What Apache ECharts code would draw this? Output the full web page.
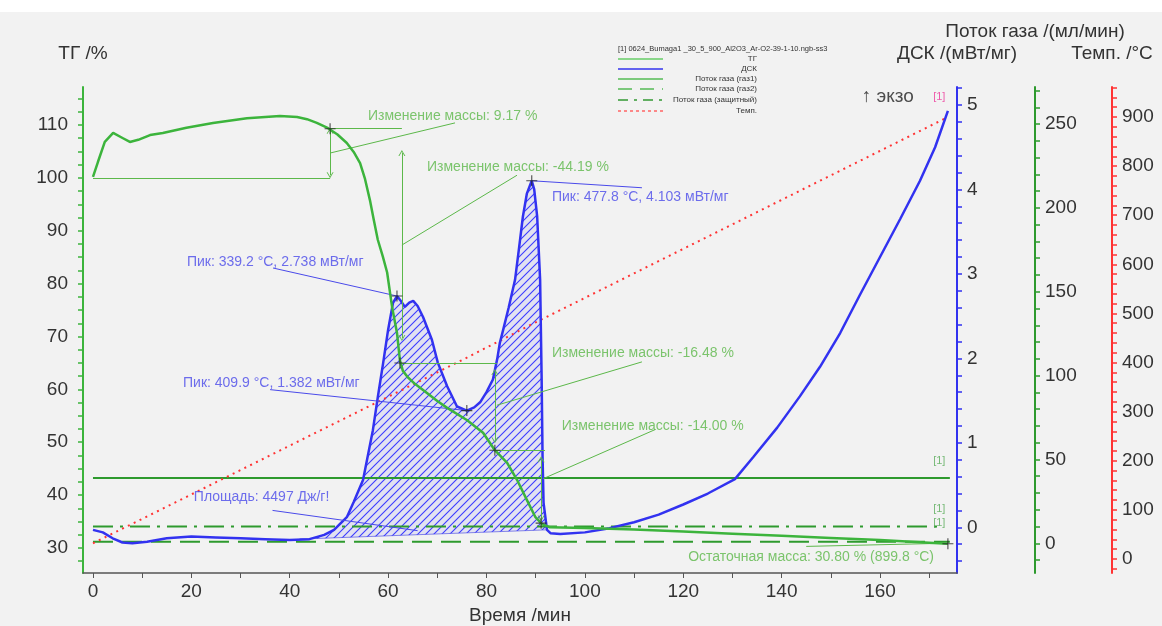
<!DOCTYPE html>
<html><head><meta charset="utf-8">
<script src="https://cdn.jsdelivr.net/npm/echarts@6.0.0/dist/echarts.min.js"></script>
<style>html,body{margin:0;padding:0;background:#fff}#c{width:1162px;height:626px}</style>
</head><body><div id="c"></div>
<script>
// ---- data (time /min, value) ----
const tgData = [[0,100.2],[1,103],[2.4,106.8],[4.1,108.5],[6.1,107.5],[7.5,106.8],[9.2,107.2],[11.6,108.1],[14.2,108.5],[19,109.5],[24.4,110.4],[31.3,111.3],[38,111.7],[41.5,111.5],[43.5,111.1],[45.5,110.4],[47.8,109.4],[49.7,108.2],[51.6,106.6],[53,104.9],[54.3,102.8],[55.3,99.8],[56.3,95.8],[57.1,92],[57.9,88.3],[58.9,85.2],[59.8,82.1],[60.8,75.6],[61.8,70.7],[62.4,65.5],[63,63.5],[64,62.3],[65.5,61],[67.9,59.3],[70,57.8],[72,56.5],[76,54.2],[79.3,51.8],[81.7,48.5],[84.2,46.1],[86.2,42.9],[88.2,39.1],[89.9,35.9],[91.3,34.5],[92.9,33.9],[100,33.8],[110,33.5],[120,33.1],[130,32.7],[140,32.3],[150,31.9],[160,31.5],[170,31.0],[173.8,30.8]];
const dscData = [[0,-0.03],[2,-0.06],[4,-0.13],[6,-0.18],[8,-0.19],[11,-0.17],[15,-0.13],[20,-0.11],[25,-0.12],[30,-0.13],[35,-0.14],[40,-0.15],[44,-0.14],[47,-0.09],[49,-0.03],[51.6,0.12],[53,0.3],[54.9,0.56],[56.9,1.15],[57.9,1.54],[59,1.95],[60,2.34],[61,2.66],[61.8,2.738],[62.6,2.68],[63.4,2.61],[64.3,2.66],[65.1,2.68],[66,2.62],[67.1,2.49],[68.9,2.22],[70.1,1.95],[72,1.67],[74,1.43],[76,1.382],[77.5,1.42],[78.7,1.48],[80,1.6],[81.3,1.75],[82.2,2.0],[82.7,2.18],[83.4,2.34],[84.5,2.6],[85.8,2.93],[86.6,3.3],[87.4,3.68],[88.2,3.95],[89.2,4.103],[89.7,4.0],[90.3,3.68],[90.9,2.93],[91.2,1.8],[91.4,0.83],[91.6,0.29],[92.3,-0.03],[93,-0.07],[95,-0.08],[100,-0.06],[105,-0.01],[110,0.06],[115,0.15],[120,0.27],[125,0.4],[130.5,0.57],[134.2,0.83],[139.1,1.18],[143.7,1.55],[147.8,1.9],[151.9,2.3],[155.9,2.75],[160,3.2],[164.1,3.65],[168.1,4.1],[171.2,4.5],[173.8,4.93]];
const tempData = [[0,32],[61.8,339.2],[76,409.9],[89.2,477.8],[173.8,899.8]];
const gas1Data = [[0,39],[174.2,39]];
const gas2Data = [[0,1],[174.2,1]];
const protData = [[0,10],[172,10]];
const areaBase = [[42,-0.14],[92.3,-0.03]];

// tick values
const xTicks = [0,10,20,30,40,50,60,70,80,90,100,110,120,130,140,150,160,170];
const xLabels = [0,20,40,60,80,100,120,140,160];
const tgLabels = [30,40,50,60,70,80,90,100,110];
const dscLabels = [0,1,2,3,4,5];
const gasLabels = [0,50,100,150,200,250];
const tempLabels = [0,100,200,300,400,500,600,700,800,900];

// annotations (data coordinates) [start, end, arrows]
const tgAnno = [
  [[0,100],[48.2,100],0],[[48.2,109.3],[62.8,109.3],0],[[48.2,108.9],[48.2,100.5],1],[[48.2,104.7],[73.6,110.4],0],
  [[62.8,104.7],[62.8,69.7],1],[[62.4,65.0],[82.1,65.0],0],[[62.8,87.3],[86.2,100.5],0],
  [[81.7,63.3],[81.7,50.4],1],[[81.7,48.5],[91.9,48.5],0],[[82.1,57.0],[111.6,65.2],0],
  [[91.1,46.8],[91.1,35.6],1],[[91.5,43.1],[114.3,52.4],0],[[145,30.3],[173.5,30.9],0]
];
const dscAnno = [
  [[36.6,3.07],[61.8,2.738],0],[[36,1.63],[76,1.382],0],[[89.2,4.103],[111.6,4.02],0],[[36.5,0.2],[66,-0.04],0]
];
const tgTexts = [
  [55.9,111.7,'Изменение массы: 9.17 %'],[67.9,102.1,'Изменение массы: -44.19 %'],
  [93.3,66.9,'Изменение массы: -16.48 %'],[95.3,53.1,'Изменение массы: -14.00 %'],
  [121,28.3,'Остаточная масса: 30.80 % (899.8 °C)']
];
const dscTexts = [
  [19.1,3.14,'Пик: 339.2 °C, 2.738 мВт/мг'],[18.3,1.71,'Пик: 409.9 °C, 1.382 мВт/мг'],
  [93.3,3.91,'Пик: 477.8 °C, 4.103 мВт/мг'],[20.5,0.36,'Площадь: 4497 Дж/г!']
];
const exoText = [[156.3,5.1,'↑ экзо']];
const gasTexts = [[170.8,49,'[1]'],[170.8,20.5,'[1]'],[170.8,12.1,'[1]']];
const tempTexts = [[170.8,941,'[1]']];
const tgMarks = [[48.2,109.3],[62.4,65.0],[81.7,48.5],[91.1,34.7],[173.8,30.8]];
const dscMarks = [[61.8,2.738],[76,1.382],[89.2,4.103]];

const F = 'Liberation Sans, Arial, sans-serif';
const ARROW = 'path://M0,7L5,0L10,7L8.6,7L5,2L1.4,7Z';
const CROSS = 'path://M4.5,0H5.5V4.5H10V5.5H5.5V10H4.5V5.5H0V4.5H4.5Z';
const C_TG='#3cb43c', C_DSC='#3232f0', C_GAS='#2e9a2e', C_T='#ff3333', C_ANG='#5cb84a', C_ANB='#4a4aea';

function range(a,b,s){const r=[];for(let v=a;v<=b+1e-9;v+=s)r.push(+v.toFixed(3));return r;}

const pc=document.createElement('canvas');pc.width=8;pc.height=8;
const g=pc.getContext('2d');g.clearRect(0,0,8,8);g.strokeStyle='#3c3cff';g.lineWidth=1.1;
g.beginPath();g.moveTo(0,8);g.lineTo(8,0);g.moveTo(-2,2);g.lineTo(2,-2);g.moveTo(6,10);g.lineTo(10,6);g.stroke();

function mkLines(list){
  return list.map(l=>[
    {coord:l[0],symbol:l[2]?ARROW:'none',symbolSize:[7,6]},
    {coord:l[1],symbol:l[2]?ARROW:'none',symbolSize:[7,6]}
  ]);
}
function labelSeries(arr,yIdx,color,size){
  return {type:'scatter',yAxisIndex:yIdx,symbolSize:1,itemStyle:{color:'rgba(0,0,0,0)'},silent:true,z:10,
    data:arr.map(a=>({value:[a[0],a[1]],name:a[2]})),
    label:{show:true,position:'inside',align:'left',verticalAlign:'middle',formatter:p=>p.name,color:color,fontSize:size,fontFamily:F}};
}
function yAx(o){
  return Object.assign({type:'value',splitLine:{show:false},
    axisLine:{show:true,onZero:false,lineStyle:{color:o.color,width:2}},
    axisTick:{show:true,length:5,customValues:o.ticks,lineStyle:{color:o.color,width:1.5}},
    axisLabel:{customValues:o.labels,fontSize:19,color:'#333',fontFamily:F,margin:o.margin||10},
    nameLocation:'end',nameTextStyle:{fontSize:19,color:'#333',fontFamily:F}},o.extra);
}

const chart=echarts.init(document.getElementById('c'));
const option={
  animation:false,
  backgroundColor:'#f2f2f2',
  grid:{left:83,right:205,top:87,bottom:53,outerBoundsMode:'none',containLabel:false},
  xAxis:{type:'value',min:-2.03,max:175.65,name:'Время /мин',nameLocation:'middle',nameGap:33,
    nameTextStyle:{fontSize:19,color:'#333',fontFamily:F},splitLine:{show:false},
    axisLine:{onZero:false,lineStyle:{color:'#555',width:1.5}},
    axisTick:{customValues:xTicks,length:5,lineStyle:{color:'#555'}},
    axisLabel:{customValues:xLabels,fontSize:19,color:'#333',fontFamily:F,margin:9}},
  yAxis:[
    yAx({color:C_TG,ticks:range(27.5,115,2.5),labels:tgLabels,margin:15,extra:{position:'left',min:25.27,max:117.19,name:'ТГ /%',nameGap:24}}),
    yAx({color:C_DSC,ticks:range(-0.4,5.2,0.2),labels:dscLabels,extra:{position:'right',offset:0,min:-0.541,max:5.213,name:'ДСК /(мВт/мг)',nameGap:24}}),
    yAx({color:C_GAS,ticks:range(-10,270,10),labels:gasLabels,extra:{position:'right',offset:78,min:-17.7,max:272.1,name:'Поток газа /(мл/мин)',nameGap:46}}),
    yAx({color:C_T,ticks:range(-20,960,20),labels:tempLabels,extra:{position:'right',offset:155,min:-28.5,max:961,name:'Темп. /°C',nameGap:24}})
  ],
  graphic:[
    {type:'rect',shape:{x:0,y:0,width:1162,height:12},style:{fill:'#fff'},silent:true},
    {type:'text',x:618,y:49,style:{text:'[1] 0624_Bumaga1 _30_5_900_Al2O3_Ar-O2-39-1-10.ngb-ss3',font:'7.5px '+F,fill:'#333',textVerticalAlign:'middle'}},
    ...[['ТГ','#66cc66',null],['ДСК','#3333ee',null],['Поток газа (газ1)','#55bb55',null],['Поток газа (газ2)','#55bb55',[14,8]],['Поток газа (защитный)','#339933',[10,6,3,6]],['Темп.','#ff6666',[3,3]]]
      .flatMap((r,i)=>{const y=[59,69,79,89,100,111][i];return [
        {type:'line',shape:{x1:618,y1:y,x2:663,y2:y},style:{stroke:r[1],lineWidth:1.5,lineDash:r[2]||null},silent:true},
        {type:'text',x:757,y:y,style:{text:r[0],font:'8px '+F,fill:'#333',textAlign:'right',textVerticalAlign:'middle'},silent:true}];})
  ],
  series:[
    {type:'custom',yAxisIndex:1,silent:true,z:1,data:[areaBase[0]],
      renderItem:function(params,api){
        const pts=[api.coord(areaBase[0])];
        dscData.forEach(p=>{if(p[0]>areaBase[0][0]&&p[0]<areaBase[1][0])pts.push(api.coord(p));});
        pts.push(api.coord(areaBase[1]));
        return {type:'group',children:[
          {type:'polygon',shape:{points:pts},style:{fill:'rgba(90,90,240,0.10)',stroke:'rgba(60,60,225,0.6)',lineWidth:1}},
          {type:'polygon',shape:{points:pts},style:{fill:{image:pc,repeat:'repeat'}}}
        ]};
      }},
    {type:'line',yAxisIndex:2,data:gas1Data,symbol:'none',silent:true,z:2,lineStyle:{color:C_GAS,width:2}},
    {type:'line',yAxisIndex:2,data:gas2Data,symbol:'none',silent:true,z:2,lineStyle:{color:C_GAS,width:2,type:[20,9]}},
    {type:'line',yAxisIndex:2,data:protData,symbol:'none',silent:true,z:2,lineStyle:{color:C_GAS,width:2,type:[20,7,3,7]}},
    {type:'line',yAxisIndex:3,data:tempData,symbol:'none',silent:true,z:3,lineStyle:{color:C_T,width:2,type:[2,4.5]}},
    {type:'line',yAxisIndex:1,data:dscData,symbol:'none',silent:true,z:4,lineStyle:{color:C_DSC,width:2.5},
      markLine:{silent:true,animation:false,symbol:'none',label:{show:false},emphasis:{disabled:true},lineStyle:{color:C_ANB,width:1,type:'solid'},data:mkLines(dscAnno)}},
    {type:'line',yAxisIndex:0,data:tgData,symbol:'none',silent:true,z:5,lineStyle:{color:C_TG,width:2.5},
      markLine:{silent:true,animation:false,symbol:'none',label:{show:false},emphasis:{disabled:true},lineStyle:{color:C_ANG,width:1,type:'solid'},data:mkLines(tgAnno)}},
    {type:'scatter',yAxisIndex:0,data:tgMarks,symbol:CROSS,symbolSize:11,itemStyle:{color:'#222'},silent:true,z:8},
    {type:'scatter',yAxisIndex:1,data:dscMarks,symbol:CROSS,symbolSize:11,itemStyle:{color:'#222'},silent:true,z:8},
    labelSeries(tgTexts,0,C_ANG,14),
    labelSeries(dscTexts,1,C_ANB,14),
    labelSeries(exoText,1,'#222',19),
    labelSeries(gasTexts,2,'#55aa55',11),
    labelSeries(tempTexts,3,'#ee3399',11)
  ]
};
chart.setOption(option);
</script></body></html>
